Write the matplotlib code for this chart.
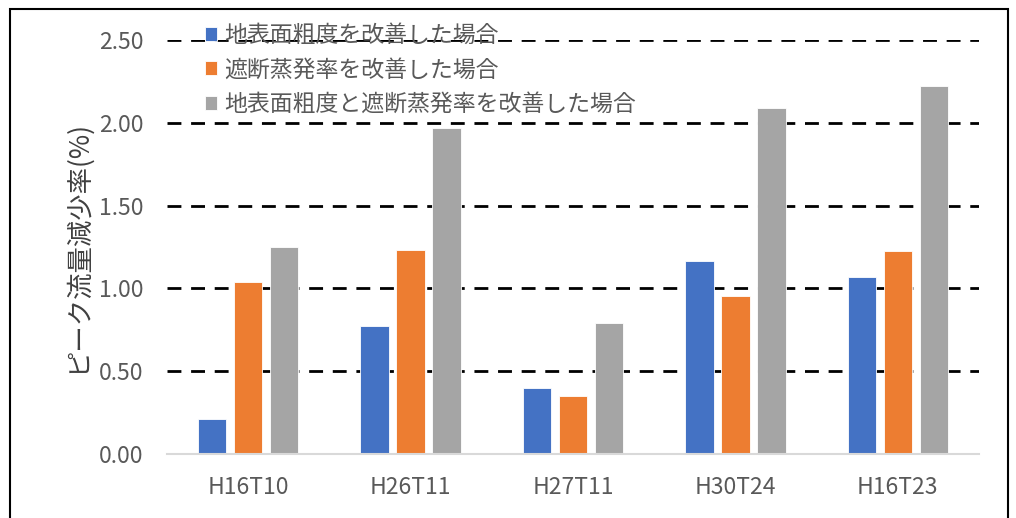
import matplotlib
matplotlib.use("Agg")
import matplotlib.pyplot as plt
from matplotlib.patches import Rectangle
import numpy as np

plt.rcParams['font.family'] = ['Noto Sans CJK JP', 'DejaVu Sans']

categories = ["H16T10", "H26T11", "H27T11", "H30T24", "H16T23"]
series_names = ["地表面粗度を改善した場合",
                "遮断蒸発率を改善した場合",
                "地表面粗度と遮断蒸発率を改善した場合"]
roughness = [0.21, 0.77, 0.40, 1.165, 1.07]
interception = [1.04, 1.23, 0.35, 0.955, 1.225]
combined = [1.25, 1.97, 0.79, 2.09, 2.22]
yticks = [0.0, 0.5, 1.0, 1.5, 2.0, 2.5]
colors = ["#4472C4", "#ED7D31", "#A5A5A5"]

fig = plt.figure(figsize=(10.16, 5.18), dpi=100)
ax = fig.add_axes([0.1644, 0.1236, 0.7992, 0.7992])

x = np.arange(len(categories))
width = 0.175
step = 0.222
for i, (vals, name, c) in enumerate(zip([roughness, interception, combined],
                                        series_names, colors)):
    ax.bar(x + (i - 1) * step, vals, width, color=c, label=name,
           edgecolor="white", linewidth=0.6, zorder=3)

ax.set_xlim(-0.5, len(categories) - 0.5)
ax.set_ylim(0, 2.5)
ax.set_yticks(yticks)
ax.set_yticklabels([f"{v:.2f}" for v in yticks])
ax.set_xticks(x)
ax.set_xticklabels(categories)
ax.tick_params(axis='both', length=0, labelsize=16.5, colors="#595959")
ax.tick_params(axis='y', pad=17)
ax.tick_params(axis='x', pad=16)

for v in yticks[1:]:
    ax.axhline(v, color="black", linestyle=(0, (5, 3.5)), linewidth=2, zorder=1)

for s in ["top", "right", "left"]:
    ax.spines[s].set_visible(False)
ax.spines["bottom"].set_color("#D9D9D9")
ax.spines["bottom"].set_linewidth(1.5)
ax.spines["bottom"].set_zorder(4)

ax.set_ylabel("ピーク流量減少率(%)", fontsize=19, color="#404040", labelpad=6)

leg = ax.legend(loc="upper left", bbox_to_anchor=(0.035, 1.061), frameon=False,
                fontsize=16.5, labelcolor="#595959", handlelength=0.55,
                handleheight=0.55, handletextpad=0.3, labelspacing=0.5,
                borderaxespad=0)

fig.patches.append(Rectangle((10 / 1016, -0.05), 998 / 1016, 1.05 - 9 / 518,
                             transform=fig.transFigure, fill=False,
                             edgecolor="black", linewidth=1.5))

fig.savefig("out.png", dpi=100)
